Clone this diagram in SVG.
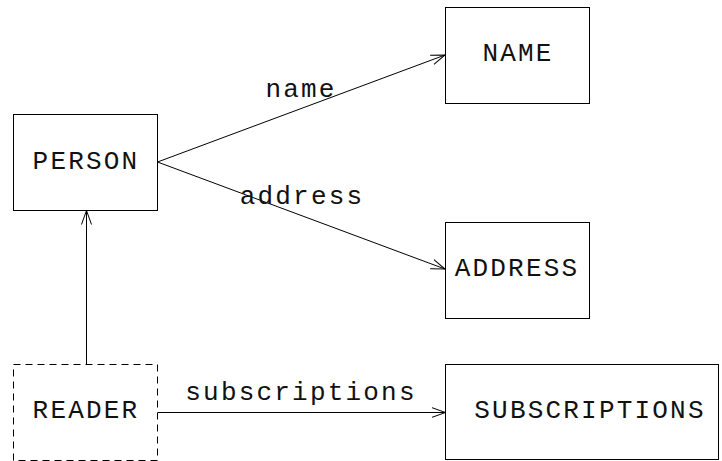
<svg xmlns="http://www.w3.org/2000/svg" width="722" height="461" viewBox="0 0 722 461">
  <style>
    .box { fill: #ffffff; stroke: #000000; stroke-width: 1; }
    .dashed { stroke-dasharray: 7 5; }
    .lbl { font-family: "Liberation Mono", "Courier New", monospace; font-size: 26px; letter-spacing: 2.2px; fill: #111111; text-anchor: middle; }
    .edge { fill: none; stroke: #000000; stroke-width: 1; }
    .head { fill: none; stroke: #000000; stroke-width: 1; }
  </style>
  <defs>
    <marker id="open" viewBox="0 0 14 12" refX="14" refY="6" markerWidth="14" markerHeight="12" markerUnits="userSpaceOnUse" orient="auto">
      <path d="M0,1 L14,6 L0,11" class="head"/>
    </marker>
  </defs>

  <g id="connectors">
    <line class="edge" x1="157.5" y1="162" x2="445" y2="55" marker-end="url(#open)"/>
    <line class="edge" x1="157.5" y1="162" x2="445" y2="269" marker-end="url(#open)"/>
    <line class="edge" x1="86.5" y1="364" x2="86.5" y2="210.5" marker-end="url(#open)"/>
    <line class="edge" x1="157.5" y1="412.5" x2="445.5" y2="412.5" marker-end="url(#open)"/>
    <text class="lbl" x="301" y="97">name</text>
    <text class="lbl" x="302" y="204">address</text>
    <text class="lbl" x="301" y="400">subscriptions</text>
  </g>

  <g id="person">
    <rect class="box" x="13.5" y="114.5" width="144" height="96"/>
    <text class="lbl" x="86" y="169">PERSON</text>
  </g>
  <g id="name">
    <rect class="box" x="445.5" y="7.5" width="144" height="96"/>
    <text class="lbl" x="518" y="61">NAME</text>
  </g>
  <g id="address">
    <rect class="box" x="445.5" y="222.5" width="144" height="96"/>
    <text class="lbl" x="517" y="276">ADDRESS</text>
  </g>
  <g id="reader">
    <rect class="box dashed" x="13.5" y="364.5" width="144" height="96"/>
    <text class="lbl" x="86" y="418">READER</text>
  </g>
  <g id="subscriptions">
    <rect class="box" x="445.5" y="364.5" width="273" height="95"/>
    <text class="lbl" x="590" y="418">SUBSCRIPTIONS</text>
  </g>
</svg>
